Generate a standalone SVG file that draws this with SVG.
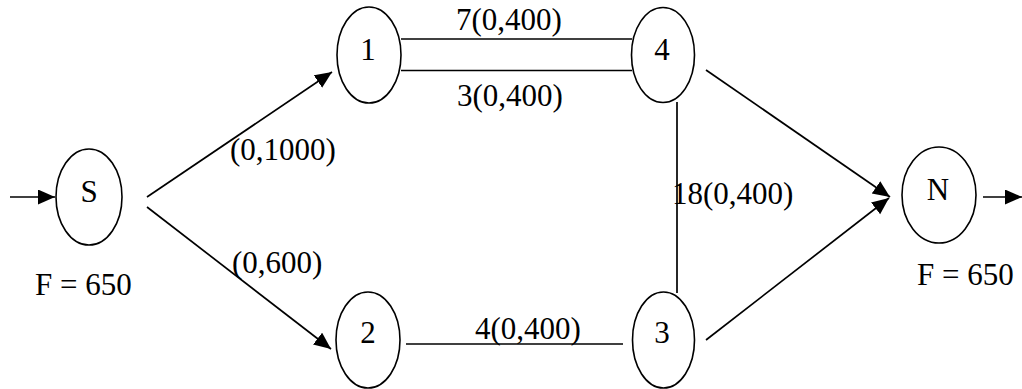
<svg xmlns="http://www.w3.org/2000/svg" width="1022" height="389" viewBox="0 0 1022 389">
<defs>
<style>
.node ellipse{fill:#fff;stroke:#000;stroke-width:1.6}
.node text{font-family:"Liberation Serif","Times New Roman",serif;font-size:31px;text-anchor:middle;fill:#000}
.edge{stroke:#000;stroke-width:1.7;fill:none}
.lbl{font-family:"Liberation Serif","Times New Roman",serif;font-size:31px;fill:#000}
</style>
<marker id="arr" markerUnits="userSpaceOnUse" markerWidth="18" markerHeight="16" refX="17" refY="7.5" orient="auto" viewBox="0 0 18 16">
<path d="M0,0 L17,7.5 L0,15 z" fill="#000"/>
</marker>
</defs>
<rect width="1022" height="389" fill="#fff"/>
<g id="connectors">
<line class="edge" x1="10" y1="197" x2="55" y2="197" marker-end="url(#arr)"/>
<line class="edge" x1="147" y1="197" x2="332" y2="72" marker-end="url(#arr)"/>
<line class="edge" x1="147" y1="207" x2="331" y2="349" marker-end="url(#arr)"/>
<line class="edge" x1="401" y1="39" x2="632" y2="39"/>
<line class="edge" x1="401" y1="70.5" x2="632" y2="70.5"/>
<line class="edge" x1="677" y1="102" x2="677" y2="293"/>
<line class="edge" x1="406" y1="344" x2="623" y2="344"/>
<line class="edge" x1="706" y1="70" x2="890" y2="197" marker-end="url(#arr)"/>
<line class="edge" x1="706" y1="340" x2="889" y2="198" marker-end="url(#arr)"/>
<line class="edge" x1="983" y1="197" x2="1022" y2="197" marker-end="url(#arr)"/>
<text class="lbl" x="230" y="160">(0,1000)</text>
<text class="lbl" x="232" y="273">(0,600)</text>
<text class="lbl" x="456" y="30">7(0,400)</text>
<text class="lbl" x="457" y="106">3(0,400)</text>
<text class="lbl" x="475" y="339">4(0,400)</text>
<text class="lbl" x="672" y="204">18(0,400)</text>
</g>
<g id="node-S" class="node">
<ellipse cx="89" cy="197" rx="33" ry="48"/>
<text x="89" y="202">S</text>
</g>
<g id="node-1" class="node">
<ellipse cx="369" cy="55" rx="32" ry="48"/>
<text x="368" y="60">1</text>
</g>
<g id="node-4" class="node">
<ellipse cx="663" cy="55" rx="31.5" ry="47.5"/>
<text x="662" y="60">4</text>
</g>
<g id="node-2" class="node">
<ellipse cx="368" cy="340" rx="32" ry="48"/>
<text x="368" y="343">2</text>
</g>
<g id="node-3" class="node">
<ellipse cx="663.5" cy="340" rx="31" ry="48"/>
<text x="662" y="343">3</text>
</g>
<g id="node-N" class="node">
<ellipse cx="939" cy="195" rx="37" ry="48"/>
<text x="938" y="200">N</text>
</g>
<g id="flow-labels">
<text class="lbl" x="35" y="295">F = 650</text>
<text class="lbl" x="917" y="285">F = 650</text>
</g>
</svg>
